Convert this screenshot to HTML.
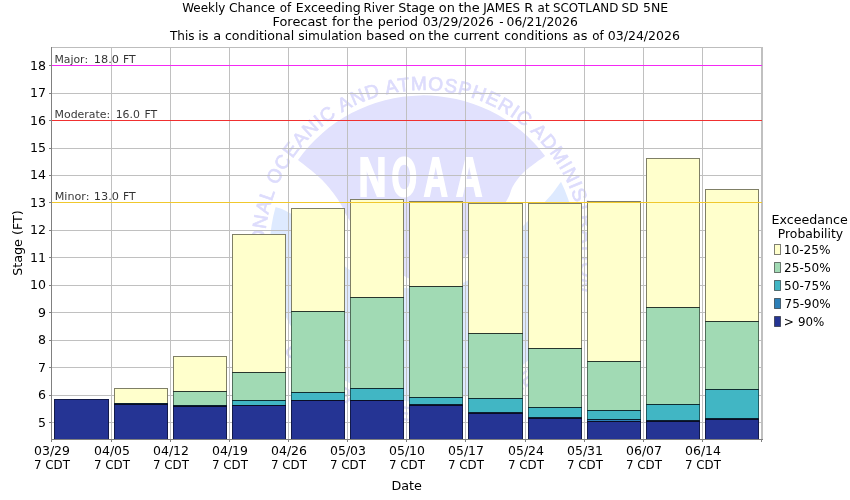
<!DOCTYPE html>
<html lang="en"><head><meta charset="utf-8"><title>Weekly Chance of Exceeding River Stage</title>
<style>html,body{margin:0;padding:0;background:#fff}body{width:850px;height:500px;overflow:hidden}svg{display:block}text{font-family:"DejaVu Sans","Liberation Sans",sans-serif;fill:#000}</style></head><body>
<svg width="850" height="500" viewBox="0 0 850 500">
<rect width="850" height="500" fill="#fff"/>
<defs><clipPath id="pc"><rect x="52" y="48" width="709" height="391"/></clipPath>
<path id="ringt" d="M423.1,407.29999999999995 A158.6,158.6 0 1 1 423.1,90.1 A158.6,158.6 0 1 1 423.1,407.29999999999995"/>
<path id="ringb" d="M423.1,76.29999999999998 A172.4,172.4 0 1 0 423.1,421.1 A172.4,172.4 0 1 0 423.1,76.29999999999998"/></defs>
<g clip-path="url(#pc)">
<path d="M561.0,181.7 A153.3,153.3 0 1 1 275.5,207.2 L275.5,207.2 276.1,207.3 276.9,207.5 277.8,207.7 278.8,208.0 279.9,208.3 281.2,208.7 282.5,209.3 284.0,210.0 285.6,210.8 287.3,211.7 289.2,212.7 291.2,213.7 293.2,215.0 295.4,216.4 297.7,218.1 300.0,220.0 302.4,222.2 305.0,224.8 307.7,227.6 310.4,230.6 313.3,233.7 316.1,236.8 319.1,239.9 322.0,243.0 325.0,246.1 328.0,249.3 331.0,252.7 334.1,256.0 337.3,259.3 340.5,262.4 343.7,265.3 347.0,268.0 350.3,270.4 353.7,272.7 357.1,274.8 360.6,276.8 364.1,278.5 367.7,280.2 371.3,281.7 375.0,283.0 378.7,284.1 382.6,285.0 386.4,285.8 390.4,286.4 394.3,286.9 398.2,287.3 402.2,287.6 406.0,288.0 409.8,288.4 413.6,288.7 417.4,289.0 421.1,289.2 424.9,289.4 428.6,289.4 432.3,289.3 436.0,289.0 439.7,288.6 443.3,288.3 446.9,287.8 450.5,287.2 454.1,286.4 457.7,285.3 461.3,283.8 465.0,282.0 468.7,279.7 472.4,277.0 476.2,273.9 479.9,270.6 483.7,267.0 487.5,263.4 491.2,259.7 495.0,256.0 498.8,252.2 502.7,248.3 506.6,244.1 510.5,239.9 514.3,235.8 518.0,231.6 521.6,227.7 525.0,224.0 528.3,220.4 531.6,216.8 534.8,213.2 537.8,209.8 540.7,206.6 543.3,203.7 545.6,201.1 547.5,199.0 548.9,197.5 549.8,196.5 550.3,196.0 550.6,195.7 550.8,195.5 551.0,195.3 551.3,194.8 552.0,194.0 553.0,192.7 554.1,191.2 555.4,189.4 556.8,187.6 558.1,185.8 559.3,184.1 560.3,182.7 561.0,181.7 Z" fill="#deeaff"/>
<path d="M298.0,160.0 A153.3,153.3 0 0 1 545.1,155.9 L545.1,155.9 544.3,156.5 543.1,157.4 541.7,158.4 540.2,159.5 538.6,160.6 537.0,161.8 535.4,162.9 534.0,164.0 532.7,165.0 531.4,166.0 530.0,167.0 528.7,168.0 527.5,169.0 526.3,170.0 525.1,171.0 524.0,172.0 523.0,173.0 522.0,174.0 521.1,175.0 520.2,176.0 519.3,177.0 518.5,178.0 517.8,179.0 517.0,180.0 516.3,181.0 515.6,181.9 515.0,182.8 514.4,183.8 513.8,184.7 513.2,185.7 512.6,186.8 512.0,188.0 511.5,189.2 511.0,190.4 510.7,191.6 510.2,192.9 509.8,194.3 509.1,195.9 508.2,197.8 507.0,200.0 505.5,202.5 503.8,205.4 501.9,208.5 499.8,211.8 497.5,215.3 495.1,218.8 492.6,222.4 490.0,226.0 487.3,229.7 484.3,233.7 481.2,237.8 478.0,242.0 474.7,246.1 471.4,250.0 468.2,253.7 465.0,257.0 461.8,259.9 458.6,262.7 455.3,265.2 452.1,267.5 448.9,269.6 445.8,271.6 442.8,273.4 440.0,275.0 437.4,276.5 435.0,277.8 432.6,279.0 430.4,279.9 428.3,280.7 426.2,281.4 424.1,281.8 422.0,282.0 419.9,282.0 417.9,281.8 415.9,281.4 414.0,280.8 412.1,280.0 410.1,279.1 408.1,278.1 406.0,277.0 403.9,275.8 401.7,274.5 399.6,273.1 397.4,271.5 395.1,269.8 392.8,268.0 390.5,266.1 388.0,264.0 385.4,261.8 382.7,259.4 379.9,256.9 377.0,254.2 374.1,251.5 371.3,248.7 368.6,245.9 366.0,243.0 363.5,240.0 360.9,236.7 358.4,233.3 355.9,229.8 353.6,226.5 351.5,223.3 349.6,220.4 348.0,218.0 346.8,216.1 345.9,214.5 345.3,213.3 344.9,212.3 344.6,211.4 344.2,210.4 343.7,209.3 343.0,208.0 342.1,206.5 341.1,204.8 340.1,203.1 339.1,201.4 337.9,199.6 336.7,197.7 335.4,195.9 334.0,194.0 332.5,192.1 331.0,190.2 329.5,188.2 327.8,186.2 326.1,184.2 324.2,182.2 322.2,180.1 320.0,178.0 317.5,175.7 314.6,173.2 311.4,170.6 308.1,168.0 305.0,165.5 302.2,163.3 299.8,161.4 298.0,160.0 Z" fill="#e1e1fd"/>
<text font-size="19.2" style="font-family:'Liberation Sans',Arial,sans-serif;fill:#dddcfc;stroke:#dddcfc;stroke-width:0.7"><textPath href="#ringt" startOffset="50.05%" text-anchor="middle" letter-spacing="0.885">NATIONAL OCEANIC AND ATMOSPHERIC ADMINISTRATION</textPath></text>
<text font-size="19.2" style="font-family:'Liberation Sans',Arial,sans-serif;fill:#dddcfc;stroke:#dddcfc;stroke-width:0.7"><textPath href="#ringb" startOffset="50%" text-anchor="middle">U.S. DEPARTMENT OF COMMERCE</textPath></text>
<text y="196.1" font-size="55.09" font-weight="bold" style="font-family:'Liberation Sans',Arial,sans-serif;fill:#fff;stroke:#fff;stroke-width:2;stroke-linejoin:miter"><tspan x="358.61" textLength="28.01" lengthAdjust="spacingAndGlyphs">N</tspan><tspan x="391.45" textLength="25.52" lengthAdjust="spacingAndGlyphs">O</tspan><tspan x="423.87" textLength="24.00" lengthAdjust="spacingAndGlyphs">A</tspan><tspan x="455.89" textLength="26.37" lengthAdjust="spacingAndGlyphs">A</tspan></text>
</g>
<g><rect x="111" y="48" width="1" height="391" fill="#c0c0c0"/><rect x="170" y="48" width="1" height="391" fill="#c0c0c0"/><rect x="229" y="48" width="1" height="391" fill="#c0c0c0"/><rect x="288" y="48" width="1" height="391" fill="#c0c0c0"/><rect x="347" y="48" width="1" height="391" fill="#c0c0c0"/><rect x="406" y="48" width="1" height="391" fill="#c0c0c0"/><rect x="465" y="48" width="1" height="391" fill="#c0c0c0"/><rect x="525" y="48" width="1" height="391" fill="#c0c0c0"/><rect x="584" y="48" width="1" height="391" fill="#c0c0c0"/><rect x="643" y="48" width="1" height="391" fill="#c0c0c0"/><rect x="702" y="48" width="1" height="391" fill="#c0c0c0"/><rect x="52" y="422" width="710" height="1" fill="#c0c0c0"/><rect x="52" y="395" width="710" height="1" fill="#c0c0c0"/><rect x="52" y="367" width="710" height="1" fill="#c0c0c0"/><rect x="52" y="340" width="710" height="1" fill="#c0c0c0"/><rect x="52" y="312" width="710" height="1" fill="#c0c0c0"/><rect x="52" y="285" width="710" height="1" fill="#c0c0c0"/><rect x="52" y="257" width="710" height="1" fill="#c0c0c0"/><rect x="52" y="230" width="710" height="1" fill="#c0c0c0"/><rect x="52" y="202" width="710" height="1" fill="#c0c0c0"/><rect x="52" y="175" width="710" height="1" fill="#c0c0c0"/><rect x="52" y="148" width="710" height="1" fill="#c0c0c0"/><rect x="52" y="120" width="710" height="1" fill="#c0c0c0"/><rect x="52" y="93" width="710" height="1" fill="#c0c0c0"/><rect x="52" y="65" width="710" height="1" fill="#c0c0c0"/></g>
<rect x="51" y="47" width="712" height="1" fill="#bdbdbd"/>
<rect x="761" y="47" width="2" height="393" fill="#c0c0c0"/>
<g><rect x="54" y="399" width="55" height="41" fill="#253494"/><rect x="54.5" y="399.5" width="54" height="40" fill="none" stroke="#000" stroke-opacity="0.5"/><rect x="114" y="388" width="54" height="15" fill="#ffffcc"/><rect x="114" y="403" width="54" height="1" fill="#2c7fb8"/><rect x="114" y="404" width="54" height="36" fill="#253494"/><rect x="114.5" y="388.5" width="53" height="15" fill="none" stroke="#000" stroke-opacity="0.5"/><rect x="114.5" y="403.5" width="53" height="1" fill="none" stroke="#000" stroke-opacity="0.5"/><rect x="114.5" y="404.5" width="53" height="35" fill="none" stroke="#000" stroke-opacity="0.5"/><rect x="173" y="356" width="54" height="35" fill="#ffffcc"/><rect x="173" y="391" width="54" height="14" fill="#a1dab4"/><rect x="173" y="405" width="54" height="1" fill="#2c7fb8"/><rect x="173" y="406" width="54" height="34" fill="#253494"/><rect x="173.5" y="356.5" width="53" height="35" fill="none" stroke="#000" stroke-opacity="0.5"/><rect x="173.5" y="391.5" width="53" height="14" fill="none" stroke="#000" stroke-opacity="0.5"/><rect x="173.5" y="405.5" width="53" height="1" fill="none" stroke="#000" stroke-opacity="0.5"/><rect x="173.5" y="406.5" width="53" height="33" fill="none" stroke="#000" stroke-opacity="0.5"/><rect x="232" y="234" width="54" height="138" fill="#ffffcc"/><rect x="232" y="372" width="54" height="28" fill="#a1dab4"/><rect x="232" y="400" width="54" height="5" fill="#41b6c4"/><rect x="232" y="405" width="54" height="35" fill="#253494"/><rect x="232.5" y="234.5" width="53" height="138" fill="none" stroke="#000" stroke-opacity="0.5"/><rect x="232.5" y="372.5" width="53" height="28" fill="none" stroke="#000" stroke-opacity="0.5"/><rect x="232.5" y="400.5" width="53" height="5" fill="none" stroke="#000" stroke-opacity="0.5"/><rect x="232.5" y="405.5" width="53" height="34" fill="none" stroke="#000" stroke-opacity="0.5"/><rect x="291" y="208" width="54" height="103" fill="#ffffcc"/><rect x="291" y="311" width="54" height="81" fill="#a1dab4"/><rect x="291" y="392" width="54" height="8" fill="#41b6c4"/><rect x="291" y="400" width="54" height="40" fill="#253494"/><rect x="291.5" y="208.5" width="53" height="103" fill="none" stroke="#000" stroke-opacity="0.5"/><rect x="291.5" y="311.5" width="53" height="81" fill="none" stroke="#000" stroke-opacity="0.5"/><rect x="291.5" y="392.5" width="53" height="8" fill="none" stroke="#000" stroke-opacity="0.5"/><rect x="291.5" y="400.5" width="53" height="39" fill="none" stroke="#000" stroke-opacity="0.5"/><rect x="350" y="199" width="54" height="98" fill="#ffffcc"/><rect x="350" y="297" width="54" height="91" fill="#a1dab4"/><rect x="350" y="388" width="54" height="12" fill="#41b6c4"/><rect x="350" y="400" width="54" height="40" fill="#253494"/><rect x="350.5" y="199.5" width="53" height="98" fill="none" stroke="#000" stroke-opacity="0.5"/><rect x="350.5" y="297.5" width="53" height="91" fill="none" stroke="#000" stroke-opacity="0.5"/><rect x="350.5" y="388.5" width="53" height="12" fill="none" stroke="#000" stroke-opacity="0.5"/><rect x="350.5" y="400.5" width="53" height="39" fill="none" stroke="#000" stroke-opacity="0.5"/><rect x="409" y="201" width="54" height="85" fill="#ffffcc"/><rect x="409" y="286" width="54" height="111" fill="#a1dab4"/><rect x="409" y="397" width="54" height="7" fill="#41b6c4"/><rect x="409" y="404" width="54" height="1" fill="#2c7fb8"/><rect x="409" y="405" width="54" height="35" fill="#253494"/><rect x="409.5" y="201.5" width="53" height="85" fill="none" stroke="#000" stroke-opacity="0.5"/><rect x="409.5" y="286.5" width="53" height="111" fill="none" stroke="#000" stroke-opacity="0.5"/><rect x="409.5" y="397.5" width="53" height="7" fill="none" stroke="#000" stroke-opacity="0.5"/><rect x="409.5" y="404.5" width="53" height="1" fill="none" stroke="#000" stroke-opacity="0.5"/><rect x="409.5" y="405.5" width="53" height="34" fill="none" stroke="#000" stroke-opacity="0.5"/><rect x="468" y="203" width="55" height="130" fill="#ffffcc"/><rect x="468" y="333" width="55" height="65" fill="#a1dab4"/><rect x="468" y="398" width="55" height="14" fill="#41b6c4"/><rect x="468" y="412" width="55" height="1" fill="#2c7fb8"/><rect x="468" y="413" width="55" height="27" fill="#253494"/><rect x="468.5" y="203.5" width="54" height="130" fill="none" stroke="#000" stroke-opacity="0.5"/><rect x="468.5" y="333.5" width="54" height="65" fill="none" stroke="#000" stroke-opacity="0.5"/><rect x="468.5" y="398.5" width="54" height="14" fill="none" stroke="#000" stroke-opacity="0.5"/><rect x="468.5" y="412.5" width="54" height="1" fill="none" stroke="#000" stroke-opacity="0.5"/><rect x="468.5" y="413.5" width="54" height="26" fill="none" stroke="#000" stroke-opacity="0.5"/><rect x="528" y="203" width="54" height="145" fill="#ffffcc"/><rect x="528" y="348" width="54" height="59" fill="#a1dab4"/><rect x="528" y="407" width="54" height="10" fill="#41b6c4"/><rect x="528" y="417" width="54" height="1" fill="#2c7fb8"/><rect x="528" y="418" width="54" height="22" fill="#253494"/><rect x="528.5" y="203.5" width="53" height="145" fill="none" stroke="#000" stroke-opacity="0.5"/><rect x="528.5" y="348.5" width="53" height="59" fill="none" stroke="#000" stroke-opacity="0.5"/><rect x="528.5" y="407.5" width="53" height="10" fill="none" stroke="#000" stroke-opacity="0.5"/><rect x="528.5" y="417.5" width="53" height="1" fill="none" stroke="#000" stroke-opacity="0.5"/><rect x="528.5" y="418.5" width="53" height="21" fill="none" stroke="#000" stroke-opacity="0.5"/><rect x="587" y="201" width="54" height="160" fill="#ffffcc"/><rect x="587" y="361" width="54" height="49" fill="#a1dab4"/><rect x="587" y="410" width="54" height="9" fill="#41b6c4"/><rect x="587" y="419" width="54" height="2" fill="#2c7fb8"/><rect x="587" y="421" width="54" height="19" fill="#253494"/><rect x="587.5" y="201.5" width="53" height="160" fill="none" stroke="#000" stroke-opacity="0.5"/><rect x="587.5" y="361.5" width="53" height="49" fill="none" stroke="#000" stroke-opacity="0.5"/><rect x="587.5" y="410.5" width="53" height="9" fill="none" stroke="#000" stroke-opacity="0.5"/><rect x="587.5" y="419.5" width="53" height="2" fill="none" stroke="#000" stroke-opacity="0.5"/><rect x="587.5" y="421.5" width="53" height="18" fill="none" stroke="#000" stroke-opacity="0.5"/><rect x="646" y="158" width="54" height="149" fill="#ffffcc"/><rect x="646" y="307" width="54" height="97" fill="#a1dab4"/><rect x="646" y="404" width="54" height="16" fill="#41b6c4"/><rect x="646" y="420" width="54" height="1" fill="#2c7fb8"/><rect x="646" y="421" width="54" height="19" fill="#253494"/><rect x="646.5" y="158.5" width="53" height="149" fill="none" stroke="#000" stroke-opacity="0.5"/><rect x="646.5" y="307.5" width="53" height="97" fill="none" stroke="#000" stroke-opacity="0.5"/><rect x="646.5" y="404.5" width="53" height="16" fill="none" stroke="#000" stroke-opacity="0.5"/><rect x="646.5" y="420.5" width="53" height="1" fill="none" stroke="#000" stroke-opacity="0.5"/><rect x="646.5" y="421.5" width="53" height="18" fill="none" stroke="#000" stroke-opacity="0.5"/><rect x="705" y="189" width="54" height="132" fill="#ffffcc"/><rect x="705" y="321" width="54" height="68" fill="#a1dab4"/><rect x="705" y="389" width="54" height="29" fill="#41b6c4"/><rect x="705" y="418" width="54" height="1" fill="#2c7fb8"/><rect x="705" y="419" width="54" height="21" fill="#253494"/><rect x="705.5" y="189.5" width="53" height="132" fill="none" stroke="#000" stroke-opacity="0.5"/><rect x="705.5" y="321.5" width="53" height="68" fill="none" stroke="#000" stroke-opacity="0.5"/><rect x="705.5" y="389.5" width="53" height="29" fill="none" stroke="#000" stroke-opacity="0.5"/><rect x="705.5" y="418.5" width="53" height="1" fill="none" stroke="#000" stroke-opacity="0.5"/><rect x="705.5" y="419.5" width="53" height="20" fill="none" stroke="#000" stroke-opacity="0.5"/></g>
<rect x="51" y="47" width="1" height="393" fill="#808080"/>
<rect x="51" y="439" width="712" height="1" fill="#808080"/>
<g><rect x="51" y="440" width="1" height="2" fill="#808080"/><rect x="111" y="440" width="1" height="2" fill="#808080"/><rect x="170" y="440" width="1" height="2" fill="#808080"/><rect x="229" y="440" width="1" height="2" fill="#808080"/><rect x="288" y="440" width="1" height="2" fill="#808080"/><rect x="347" y="440" width="1" height="2" fill="#808080"/><rect x="406" y="440" width="1" height="2" fill="#808080"/><rect x="465" y="440" width="1" height="2" fill="#808080"/><rect x="525" y="440" width="1" height="2" fill="#808080"/><rect x="584" y="440" width="1" height="2" fill="#808080"/><rect x="643" y="440" width="1" height="2" fill="#808080"/><rect x="702" y="440" width="1" height="2" fill="#808080"/><rect x="761" y="440" width="1" height="2" fill="#808080"/><rect x="49" y="422" width="2" height="1" fill="#808080"/><rect x="49" y="395" width="2" height="1" fill="#808080"/><rect x="49" y="367" width="2" height="1" fill="#808080"/><rect x="49" y="340" width="2" height="1" fill="#808080"/><rect x="49" y="312" width="2" height="1" fill="#808080"/><rect x="49" y="285" width="2" height="1" fill="#808080"/><rect x="49" y="257" width="2" height="1" fill="#808080"/><rect x="49" y="230" width="2" height="1" fill="#808080"/><rect x="49" y="202" width="2" height="1" fill="#808080"/><rect x="49" y="175" width="2" height="1" fill="#808080"/><rect x="49" y="148" width="2" height="1" fill="#808080"/><rect x="49" y="120" width="2" height="1" fill="#808080"/><rect x="49" y="93" width="2" height="1" fill="#808080"/><rect x="49" y="65" width="2" height="1" fill="#808080"/></g>
<rect x="52" y="65" width="710" height="1" fill="#f528f5"/>
<rect x="52" y="120" width="710" height="1" fill="#f03030"/>
<rect x="52" y="202" width="710" height="1" fill="#f0c82d"/>
<text x="38" y="427" font-size="12" textLength="8" lengthAdjust="spacingAndGlyphs">5</text>
<text x="38" y="399" font-size="12" textLength="8" lengthAdjust="spacingAndGlyphs">6</text>
<text x="38" y="372" font-size="12" textLength="8" lengthAdjust="spacingAndGlyphs">7</text>
<text x="38" y="344" font-size="12" textLength="8" lengthAdjust="spacingAndGlyphs">8</text>
<text x="38" y="317" font-size="12" textLength="8" lengthAdjust="spacingAndGlyphs">9</text>
<text x="30" y="289" font-size="12" textLength="16" lengthAdjust="spacingAndGlyphs">10</text>
<text x="30" y="262" font-size="12" textLength="16" lengthAdjust="spacingAndGlyphs">11</text>
<text x="30" y="234" font-size="12" textLength="16" lengthAdjust="spacingAndGlyphs">12</text>
<text x="30" y="207" font-size="12" textLength="16" lengthAdjust="spacingAndGlyphs">13</text>
<text x="30" y="179" font-size="12" textLength="16" lengthAdjust="spacingAndGlyphs">14</text>
<text x="30" y="152" font-size="12" textLength="16" lengthAdjust="spacingAndGlyphs">15</text>
<text x="30" y="125" font-size="12" textLength="16" lengthAdjust="spacingAndGlyphs">16</text>
<text x="30" y="97" font-size="12" textLength="16" lengthAdjust="spacingAndGlyphs">17</text>
<text x="30" y="70" font-size="12" textLength="16" lengthAdjust="spacingAndGlyphs">18</text>
<text x="34" y="455" font-size="12" textLength="36" lengthAdjust="spacingAndGlyphs">03/29</text>
<text x="34" y="469" font-size="12" textLength="36" lengthAdjust="spacingAndGlyphs">7 CDT</text>
<text x="94" y="455" font-size="12" textLength="36" lengthAdjust="spacingAndGlyphs">04/05</text>
<text x="94" y="469" font-size="12" textLength="36" lengthAdjust="spacingAndGlyphs">7 CDT</text>
<text x="153" y="455" font-size="12" textLength="36" lengthAdjust="spacingAndGlyphs">04/12</text>
<text x="153" y="469" font-size="12" textLength="36" lengthAdjust="spacingAndGlyphs">7 CDT</text>
<text x="212" y="455" font-size="12" textLength="36" lengthAdjust="spacingAndGlyphs">04/19</text>
<text x="212" y="469" font-size="12" textLength="36" lengthAdjust="spacingAndGlyphs">7 CDT</text>
<text x="271" y="455" font-size="12" textLength="36" lengthAdjust="spacingAndGlyphs">04/26</text>
<text x="271" y="469" font-size="12" textLength="36" lengthAdjust="spacingAndGlyphs">7 CDT</text>
<text x="330" y="455" font-size="12" textLength="36" lengthAdjust="spacingAndGlyphs">05/03</text>
<text x="330" y="469" font-size="12" textLength="36" lengthAdjust="spacingAndGlyphs">7 CDT</text>
<text x="389" y="455" font-size="12" textLength="36" lengthAdjust="spacingAndGlyphs">05/10</text>
<text x="389" y="469" font-size="12" textLength="36" lengthAdjust="spacingAndGlyphs">7 CDT</text>
<text x="448" y="455" font-size="12" textLength="36" lengthAdjust="spacingAndGlyphs">05/17</text>
<text x="448" y="469" font-size="12" textLength="36" lengthAdjust="spacingAndGlyphs">7 CDT</text>
<text x="508" y="455" font-size="12" textLength="36" lengthAdjust="spacingAndGlyphs">05/24</text>
<text x="508" y="469" font-size="12" textLength="36" lengthAdjust="spacingAndGlyphs">7 CDT</text>
<text x="567" y="455" font-size="12" textLength="36" lengthAdjust="spacingAndGlyphs">05/31</text>
<text x="567" y="469" font-size="12" textLength="36" lengthAdjust="spacingAndGlyphs">7 CDT</text>
<text x="626" y="455" font-size="12" textLength="36" lengthAdjust="spacingAndGlyphs">06/07</text>
<text x="626" y="469" font-size="12" textLength="36" lengthAdjust="spacingAndGlyphs">7 CDT</text>
<text x="685" y="455" font-size="12" textLength="36" lengthAdjust="spacingAndGlyphs">06/14</text>
<text x="685" y="469" font-size="12" textLength="36" lengthAdjust="spacingAndGlyphs">7 CDT</text>
<text y="12" font-size="12"><tspan x="182.20" textLength="43.15" lengthAdjust="spacingAndGlyphs">Weekly</tspan> <tspan x="228.90" textLength="46.35" lengthAdjust="spacingAndGlyphs">Chance</tspan> <tspan x="279.83" textLength="11.45" lengthAdjust="spacingAndGlyphs">of</tspan> <tspan x="295.77" textLength="64.98" lengthAdjust="spacingAndGlyphs">Exceeding</tspan> <tspan x="363.53" textLength="30.78" lengthAdjust="spacingAndGlyphs">River</tspan> <tspan x="398.17" textLength="36.51" lengthAdjust="spacingAndGlyphs">Stage</tspan> <tspan x="438.86" textLength="16.07" lengthAdjust="spacingAndGlyphs">on</tspan> <tspan x="458.43" textLength="21.17" lengthAdjust="spacingAndGlyphs">the</tspan> <tspan x="483.28" textLength="36.72" lengthAdjust="spacingAndGlyphs">JAMES</tspan> <tspan x="524.27" textLength="8.96" lengthAdjust="spacingAndGlyphs">R</tspan> <tspan x="537.62" textLength="11.94" lengthAdjust="spacingAndGlyphs">at</tspan> <tspan x="552.91" textLength="65.50" lengthAdjust="spacingAndGlyphs">SCOTLAND</tspan> <tspan x="621.60" textLength="17.12" lengthAdjust="spacingAndGlyphs">SD</tspan> <tspan x="643.04" textLength="25.16" lengthAdjust="spacingAndGlyphs">5NE</tspan></text>
<text y="26" font-size="12"><tspan x="272.53" textLength="54.59" lengthAdjust="spacingAndGlyphs">Forecast</tspan> <tspan x="332.08" textLength="17.74" lengthAdjust="spacingAndGlyphs">for</tspan> <tspan x="353.07" textLength="19.97" lengthAdjust="spacingAndGlyphs">the</tspan> <tspan x="377.85" textLength="40.30" lengthAdjust="spacingAndGlyphs">period</tspan> <tspan x="422.79" textLength="70.99" lengthAdjust="spacingAndGlyphs">03/29/2026</tspan> <tspan x="499.36" textLength="4.29" lengthAdjust="spacingAndGlyphs">-</tspan> <tspan x="506.58" textLength="71.40" lengthAdjust="spacingAndGlyphs">06/21/2026</tspan></text>
<text y="40" font-size="12"><tspan x="170.04" textLength="24.55" lengthAdjust="spacingAndGlyphs">This</tspan> <tspan x="198.25" textLength="10.30" lengthAdjust="spacingAndGlyphs">is</tspan> <tspan x="213.15" textLength="7.91" lengthAdjust="spacingAndGlyphs">a</tspan> <tspan x="224.91" textLength="69.27" lengthAdjust="spacingAndGlyphs">conditional</tspan> <tspan x="298.34" textLength="63.70" lengthAdjust="spacingAndGlyphs">simulation</tspan> <tspan x="366.03" textLength="38.94" lengthAdjust="spacingAndGlyphs">based</tspan> <tspan x="409.06" textLength="16.07" lengthAdjust="spacingAndGlyphs">on</tspan> <tspan x="428.16" textLength="21.03" lengthAdjust="spacingAndGlyphs">the</tspan> <tspan x="453.70" textLength="45.60" lengthAdjust="spacingAndGlyphs">current</tspan> <tspan x="504.32" textLength="63.69" lengthAdjust="spacingAndGlyphs">conditions</tspan> <tspan x="572.81" textLength="14.63" lengthAdjust="spacingAndGlyphs">as</tspan> <tspan x="592.33" textLength="11.45" lengthAdjust="spacingAndGlyphs">of</tspan> <tspan x="607.77" textLength="72.22" lengthAdjust="spacingAndGlyphs">03/24/2026</tspan></text>
<text y="63" font-size="11" fill-opacity="0.8"><tspan x="54.39" textLength="33.71" lengthAdjust="spacingAndGlyphs">Major:</tspan> <tspan x="93.76" textLength="25.19" lengthAdjust="spacingAndGlyphs">18.0</tspan> <tspan x="122.94" textLength="12.72" lengthAdjust="spacingAndGlyphs">FT</tspan></text>
<text y="118" font-size="11" fill-opacity="0.8"><tspan x="54.53" textLength="55.75" lengthAdjust="spacingAndGlyphs">Moderate:</tspan> <tspan x="115.64" textLength="24.25" lengthAdjust="spacingAndGlyphs">16.0</tspan> <tspan x="144.39" textLength="12.72" lengthAdjust="spacingAndGlyphs">FT</tspan></text>
<text y="200" font-size="11" fill-opacity="0.8"><tspan x="54.70" textLength="34.80" lengthAdjust="spacingAndGlyphs">Minor:</tspan> <tspan x="93.76" textLength="25.19" lengthAdjust="spacingAndGlyphs">13.0</tspan> <tspan x="122.94" textLength="12.72" lengthAdjust="spacingAndGlyphs">FT</tspan></text>
<text y="490" font-size="12"><tspan x="391.45" textLength="30.53" lengthAdjust="spacingAndGlyphs">Date</tspan></text>
<text y="224" font-size="12"><tspan x="771.56" textLength="76.31" lengthAdjust="spacingAndGlyphs">Exceedance</tspan></text>
<text y="238" font-size="12"><tspan x="777.79" textLength="65.38" lengthAdjust="spacingAndGlyphs">Probability</tspan></text>
<text y="254" font-size="12"><tspan x="783.66" textLength="47.01" lengthAdjust="spacingAndGlyphs">10-25%</tspan></text>
<text y="272" font-size="12"><tspan x="784.12" textLength="46.55" lengthAdjust="spacingAndGlyphs">25-50%</tspan></text>
<text y="290" font-size="12"><tspan x="784.07" textLength="46.60" lengthAdjust="spacingAndGlyphs">50-75%</tspan></text>
<text y="308" font-size="12"><tspan x="784.52" textLength="46.14" lengthAdjust="spacingAndGlyphs">75-90%</tspan></text>
<text y="326" font-size="12"><tspan x="783.71" textLength="10.17" lengthAdjust="spacingAndGlyphs">&gt;</tspan> <tspan x="797.90" textLength="26.41" lengthAdjust="spacingAndGlyphs">90%</tspan></text>
<text transform="translate(22,275.74) rotate(-90)" font-size="12" textLength="65.43" lengthAdjust="spacingAndGlyphs">Stage (FT)</text>
<rect x="774.5" y="244.5" width="6" height="10" fill="#ffffcc" stroke="#000" stroke-opacity="0.5"/>
<rect x="774.5" y="262.5" width="6" height="10" fill="#a1dab4" stroke="#000" stroke-opacity="0.5"/>
<rect x="774.5" y="280.5" width="6" height="10" fill="#41b6c4" stroke="#000" stroke-opacity="0.5"/>
<rect x="774.5" y="298.5" width="6" height="10" fill="#2c7fb8" stroke="#000" stroke-opacity="0.5"/>
<rect x="774.5" y="316.5" width="6" height="10" fill="#253494" stroke="#000" stroke-opacity="0.5"/>
</svg></body></html>
